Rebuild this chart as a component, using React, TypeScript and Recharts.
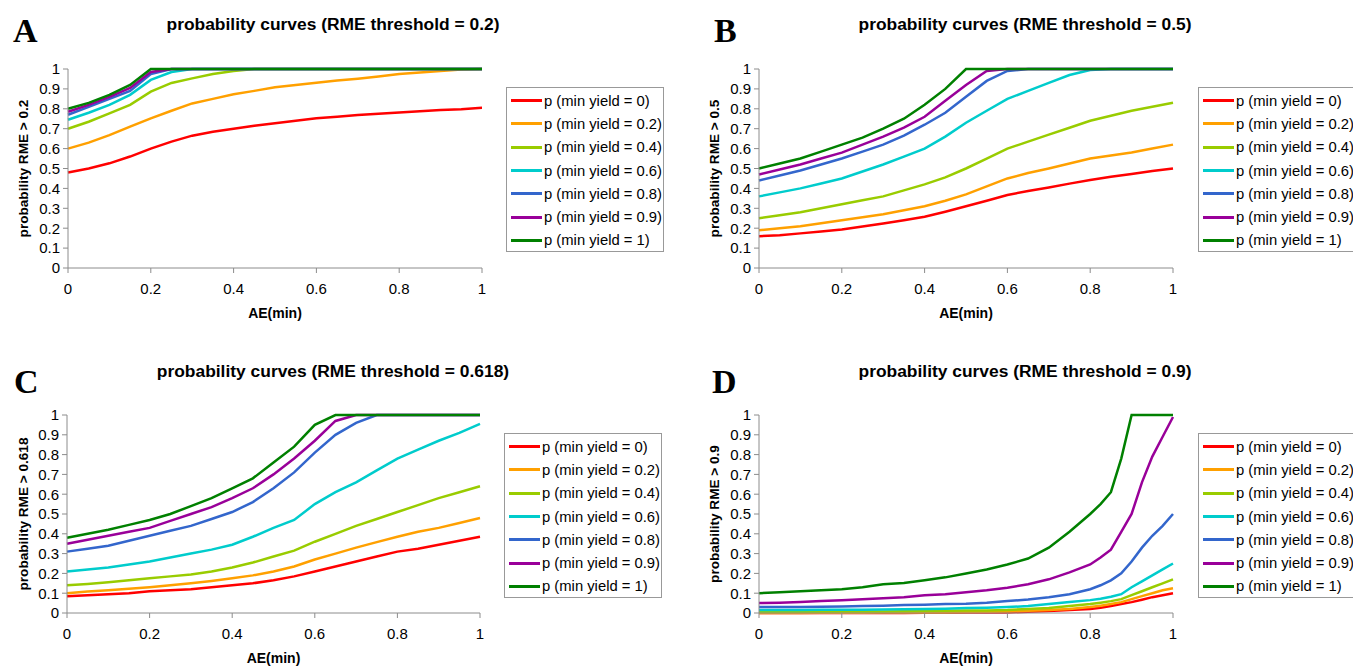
import { Line, LineChart, XAxis, YAxis } from "recharts";

const seriesNames = [
  "p (min yield = 0)",
  "p (min yield = 0.2)",
  "p (min yield = 0.4)",
  "p (min yield = 0.6)",
  "p (min yield = 0.8)",
  "p (min yield = 0.9)",
  "p (min yield = 1)",
];
const seriesColors = ["#ff0000", "#ffa000", "#99cc00", "#00cccc", "#3366cc", "#990099", "#008000"];

const xTicks = [0, 0.2, 0.4, 0.6, 0.8, 1];
const yTicks = [0, 0.1, 0.2, 0.3, 0.4, 0.5, 0.6, 0.7, 0.8, 0.9, 1];

// AE(min) sample points
const aeGrid = [0, 0.05, 0.1, 0.15, 0.2, 0.25, 0.3, 0.35, 0.4, 0.45, 0.5, 0.55, 0.6, 0.65, 0.7, 0.75, 0.8, 0.85, 0.9, 0.95, 1];
const aeGridD = [0, 0.05, 0.1, 0.15, 0.2, 0.25, 0.3, 0.35, 0.4, 0.45, 0.5, 0.55, 0.6, 0.65, 0.7, 0.75, 0.8, 0.825, 0.85, 0.875, 0.9, 0.925, 0.95, 0.975, 1];

// A: RME threshold = 0.2
const redA = [0.48, 0.5, 0.526, 0.56, 0.6, 0.635, 0.665, 0.685, 0.7, 0.715, 0.727, 0.74, 0.752, 0.76, 0.769, 0.775, 0.782, 0.788, 0.794, 0.798, 0.805];
const orangeA = [0.6, 0.63, 0.668, 0.71, 0.752, 0.79, 0.827, 0.85, 0.873, 0.89, 0.908, 0.92, 0.931, 0.942, 0.951, 0.962, 0.975, 0.983, 0.99, 0.997, 1];
const limeA = [0.7, 0.735, 0.777, 0.82, 0.886, 0.93, 0.953, 0.975, 0.99, 1, 1, 1, 1, 1, 1, 1, 1, 1, 1, 1, 1];
const cyanA = [0.745, 0.78, 0.82, 0.87, 0.945, 0.985, 1, 1, 1, 1, 1, 1, 1, 1, 1, 1, 1, 1, 1, 1, 1];
const blueA = [0.77, 0.81, 0.85, 0.89, 0.975, 1, 1, 1, 1, 1, 1, 1, 1, 1, 1, 1, 1, 1, 1, 1, 1];
const purpleA = [0.785, 0.82, 0.86, 0.905, 0.985, 1, 1, 1, 1, 1, 1, 1, 1, 1, 1, 1, 1, 1, 1, 1, 1];
const greenA = [0.8, 0.83, 0.87, 0.92, 1, 1, 1, 1, 1, 1, 1, 1, 1, 1, 1, 1, 1, 1, 1, 1, 1];

// B: RME threshold = 0.5
const redB = [0.16, 0.165, 0.174, 0.183, 0.194, 0.208, 0.224, 0.24, 0.258, 0.283, 0.31, 0.338, 0.367, 0.387, 0.405, 0.424, 0.442, 0.458, 0.472, 0.487, 0.5];
const orangeB = [0.19, 0.2, 0.21, 0.225, 0.24, 0.255, 0.27, 0.29, 0.31, 0.338, 0.37, 0.41, 0.45, 0.477, 0.5, 0.525, 0.55, 0.565, 0.58, 0.6, 0.62];
const limeB = [0.25, 0.265, 0.28, 0.3, 0.32, 0.34, 0.36, 0.39, 0.42, 0.455, 0.5, 0.55, 0.6, 0.635, 0.67, 0.705, 0.74, 0.765, 0.79, 0.81, 0.83];
const cyanB = [0.36, 0.38, 0.4, 0.425, 0.45, 0.485, 0.52, 0.56, 0.6, 0.66, 0.73, 0.79, 0.85, 0.89, 0.93, 0.97, 0.995, 1, 1, 1, 1];
const blueB = [0.44, 0.465, 0.49, 0.52, 0.55, 0.585, 0.62, 0.665, 0.72, 0.78, 0.86, 0.94, 0.99, 1, 1, 1, 1, 1, 1, 1, 1];
const purpleB = [0.47, 0.495, 0.52, 0.55, 0.58, 0.62, 0.66, 0.705, 0.76, 0.84, 0.92, 0.99, 1, 1, 1, 1, 1, 1, 1, 1, 1];
const greenB = [0.5, 0.525, 0.55, 0.585, 0.62, 0.655, 0.7, 0.75, 0.82, 0.9, 1, 1, 1, 1, 1, 1, 1, 1, 1, 1, 1];

// C: RME threshold = 0.618
const redC = [0.085, 0.09, 0.095, 0.1, 0.11, 0.115, 0.12, 0.13, 0.14, 0.15, 0.165, 0.185, 0.21, 0.235, 0.26, 0.285, 0.31, 0.325, 0.345, 0.365, 0.385];
const orangeC = [0.1, 0.108, 0.115, 0.122, 0.13, 0.14, 0.15, 0.162, 0.175, 0.19, 0.21, 0.235, 0.27, 0.3, 0.33, 0.358, 0.385, 0.41, 0.43, 0.455, 0.48];
const limeC = [0.14, 0.147, 0.155, 0.165, 0.175, 0.185, 0.195, 0.21, 0.23, 0.255, 0.285, 0.315, 0.36, 0.4, 0.44, 0.475, 0.51, 0.545, 0.58, 0.61, 0.64];
const cyanC = [0.21, 0.22, 0.23, 0.245, 0.26, 0.28, 0.3, 0.32, 0.345, 0.385, 0.43, 0.47, 0.55, 0.61, 0.66, 0.72, 0.78, 0.825, 0.87, 0.91, 0.955];
const blueC = [0.31, 0.325, 0.34, 0.365, 0.39, 0.415, 0.44, 0.475, 0.51, 0.56, 0.63, 0.71, 0.81, 0.9, 0.96, 1, 1, 1, 1, 1, 1];
const purpleC = [0.35, 0.37, 0.39, 0.41, 0.43, 0.465, 0.5, 0.535, 0.58, 0.63, 0.7, 0.78, 0.87, 0.97, 1, 1, 1, 1, 1, 1, 1];
const greenC = [0.38, 0.4, 0.42, 0.445, 0.47, 0.5, 0.54, 0.58, 0.63, 0.68, 0.76, 0.84, 0.95, 1, 1, 1, 1, 1, 1, 1, 1];

// D: RME threshold = 0.9 (finer grid near the end)
const redD = [0, 0, 0, 0, 0, 0, 0, 0, 0.001, 0.001, 0.002, 0.002, 0.003, 0.006, 0.01, 0.015, 0.02, 0.027, 0.035, 0.045, 0.055, 0.067, 0.08, 0.09, 0.1];
const orangeD = [0, 0, 0, 0.001, 0.001, 0.001, 0.002, 0.002, 0.002, 0.003, 0.005, 0.006, 0.008, 0.011, 0.015, 0.02, 0.03, 0.037, 0.045, 0.055, 0.07, 0.085, 0.1, 0.115, 0.125];
const limeD = [0.005, 0.005, 0.006, 0.006, 0.007, 0.008, 0.008, 0.009, 0.01, 0.011, 0.012, 0.013, 0.015, 0.02, 0.025, 0.035, 0.045, 0.052, 0.06, 0.07, 0.09, 0.11, 0.13, 0.15, 0.17];
const cyanD = [0.015, 0.015, 0.015, 0.016, 0.017, 0.017, 0.018, 0.019, 0.02, 0.022, 0.025, 0.027, 0.03, 0.035, 0.045, 0.055, 0.065, 0.072, 0.082, 0.095, 0.13, 0.16, 0.19, 0.22, 0.25];
const blueD = [0.03, 0.03, 0.03, 0.032, 0.033, 0.035, 0.037, 0.04, 0.042, 0.045, 0.047, 0.052, 0.06, 0.068, 0.08, 0.095, 0.12, 0.14, 0.165, 0.2, 0.26, 0.33, 0.39, 0.44, 0.5];
const purpleD = [0.05, 0.052, 0.055, 0.06, 0.065, 0.07, 0.075, 0.08, 0.09, 0.095, 0.105, 0.115, 0.128, 0.145, 0.17, 0.205, 0.245, 0.28, 0.32, 0.41, 0.5, 0.66, 0.79, 0.89, 0.99];
const greenD = [0.1, 0.105, 0.11, 0.115, 0.12, 0.13, 0.145, 0.152, 0.165, 0.18, 0.2, 0.22, 0.245, 0.275, 0.33, 0.41, 0.5, 0.55, 0.61, 0.78, 1, 1, 1, 1, 1];

const AXIS_GREY = "#8c8c8c";
const SANS = "Arial, 'Liberation Sans', sans-serif";

interface PanelProps {
  letter: string;
  letterPos: [number, number];
  title: string;
  titlePos: [number, number];
  yLabel: string;
  ae: number[];
  series: number[][];
  plot: { left: number; top: number; right: number; bottom: number };
  legendPos: [number, number];
}

function Panel({ letter, letterPos, title, titlePos, yLabel, ae, series, plot, legendPos }: PanelProps) {
  const data = ae.map((x, i) => {
    const row: Record<string, number> = { ae: x };
    series.forEach((s, k) => (row["s" + k] = s[i]));
    return row;
  });
  const chartLeft = Math.max(0, plot.left - 68);
  const yAxisWidth = plot.left - chartLeft;
  const chartTop = plot.top - 14;
  const width = plot.right - chartLeft + 8;
  const height = plot.bottom - chartTop + 55;

  return (
    <>
      <div
        style={{
          position: "absolute",
          left: letterPos[0],
          top: letterPos[1],
          fontFamily: "'Liberation Serif', 'Times New Roman', serif",
          fontWeight: "bold",
          fontSize: 34,
          lineHeight: "34px",
        }}
      >
        {letter}
      </div>
      <div
        style={{
          position: "absolute",
          left: titlePos[0] - 200,
          top: titlePos[1] - 10,
          width: 400,
          textAlign: "center",
          fontFamily: SANS,
          fontWeight: "bold",
          fontSize: 17.4,
          lineHeight: "22px",
          whiteSpace: "nowrap",
        }}
      >
        {title}
      </div>
      <div style={{ position: "absolute", left: chartLeft, top: chartTop }}>
        <LineChart width={width} height={height} data={data} margin={{ top: 14, right: 8, left: 0, bottom: 0 }}>
          <XAxis
            dataKey="ae"
            type="number"
            domain={[0, 1]}
            ticks={xTicks}
            interval={0}
            height={55}
            stroke={AXIS_GREY}
            tickSize={5}
            tickMargin={10}
            tick={{ fill: "#000", fontSize: 15, fontFamily: SANS }}
            label={{ value: "AE(min)", position: "insideBottom", offset: 5, fill: "#000", fontSize: 14, fontWeight: "bold", fontFamily: SANS }}
          />
          <XAxis xAxisId="top" orientation="top" type="number" domain={[0, 1]} height={0} tick={false} tickLine={false} stroke={AXIS_GREY} />
          <YAxis
            type="number"
            domain={[0, 1]}
            ticks={yTicks}
            interval={0}
            width={yAxisWidth}
            stroke={AXIS_GREY}
            tickSize={5}
            tickMargin={3}
            tick={{ fill: "#000", fontSize: 15, fontFamily: SANS }}
            label={{
              value: yLabel,
              angle: -90,
              position: "insideLeft",
              offset: 23,
              textAnchor: "middle",
              fill: "#000",
              fontSize: 13.6,
              fontWeight: "bold",
              fontFamily: SANS,
            }}
          />
          <YAxis yAxisId="right" orientation="right" domain={[0, 1]} width={0} tick={false} tickLine={false} stroke={AXIS_GREY} />
          {series.map((_, k) => (
            <Line
              key={k}
              type="linear"
              dataKey={"s" + k}
              stroke={seriesColors[k]}
              strokeWidth={2.5}
              dot={false}
              isAnimationActive={false}
            />
          ))}
        </LineChart>
      </div>
      <div
        style={{
          position: "absolute",
          left: legendPos[0],
          top: legendPos[1],
          width: 156,
          height: 162,
          border: "1px solid #999",
          background: "#fff",
          paddingTop: 1,
          boxSizing: "content-box",
          fontFamily: SANS,
          fontSize: 14.8,
        }}
      >
        {seriesNames.map((name, k) => (
          <div key={name} style={{ display: "flex", alignItems: "center", height: 23.3, whiteSpace: "nowrap" }}>
            <span style={{ display: "inline-block", width: 31, height: 3, marginLeft: 4, marginRight: 2, background: seriesColors[k] }} />
            {name}
          </div>
        ))}
      </div>
    </>
  );
}

export default function App() {
  return (
    <div style={{ position: "absolute", left: 0, top: 0, width: 1353, height: 667, overflow: "hidden", background: "#fff" }}>
      <Panel
        letter="A"
        letterPos={[13, 14]}
        title="probability curves (RME threshold = 0.2)"
        titlePos={[333, 23]}
        yLabel="probability RME > 0.2"
        ae={aeGrid}
        series={[redA, orangeA, limeA, cyanA, blueA, purpleA, greenA]}
        plot={{ left: 68, top: 69, right: 482, bottom: 268 }}
        legendPos={[506, 87]}
      />
      <Panel
        letter="B"
        letterPos={[714, 14]}
        title="probability curves (RME threshold = 0.5)"
        titlePos={[1025, 23]}
        yLabel="probability RME > 0.5"
        ae={aeGrid}
        series={[redB, orangeB, limeB, cyanB, blueB, purpleB, greenB]}
        plot={{ left: 759, top: 69, right: 1173, bottom: 268 }}
        legendPos={[1198, 87]}
      />
      <Panel
        letter="C"
        letterPos={[14, 365]}
        title="probability curves (RME threshold = 0.618)"
        titlePos={[333, 370]}
        yLabel="probability RME > 0.618"
        ae={aeGrid}
        series={[redC, orangeC, limeC, cyanC, blueC, purpleC, greenC]}
        plot={{ left: 67, top: 415, right: 480, bottom: 613 }}
        legendPos={[504, 433]}
      />
      <Panel
        letter="D"
        letterPos={[712, 365]}
        title="probability curves (RME threshold = 0.9)"
        titlePos={[1025, 370]}
        yLabel="probability RME > 0.9"
        ae={aeGridD}
        series={[redD, orangeD, limeD, cyanD, blueD, purpleD, greenD]}
        plot={{ left: 759, top: 415, right: 1173, bottom: 613 }}
        legendPos={[1198, 433]}
      />
    </div>
  );
}
